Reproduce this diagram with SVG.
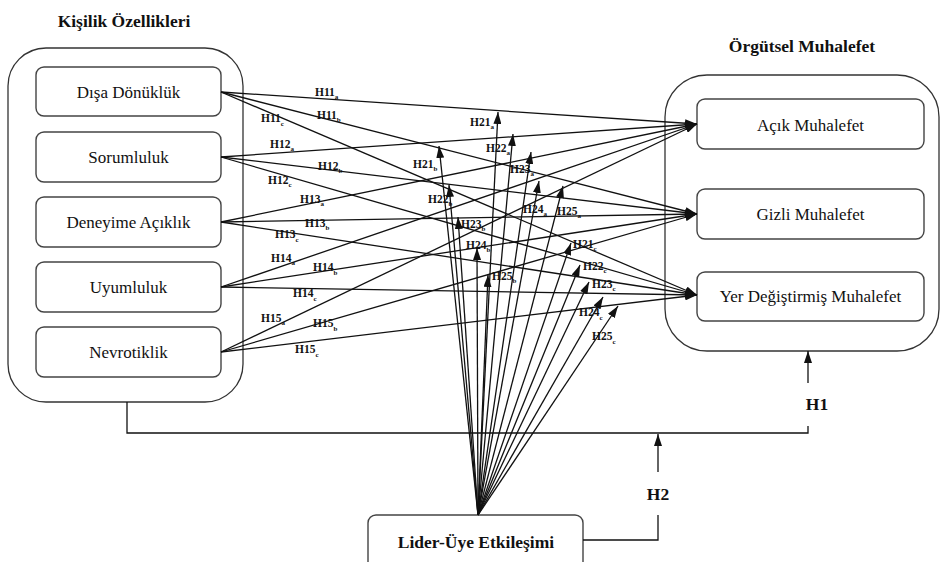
<svg xmlns="http://www.w3.org/2000/svg" width="941" height="562" viewBox="0 0 941 562">
<style>
.cont{fill:none;stroke:#333;stroke-width:1.3}
.box{fill:#fff;stroke:#444;stroke-width:1.4}
text{font-family:'Liberation Serif','Times New Roman',Times,'DejaVu Serif',serif;fill:#111}
.bt{font-size:17px;text-anchor:middle}
.tt{font-size:17.5px;font-weight:bold;text-anchor:middle}
.lb{font-size:11.5px;font-weight:bold}
.sb{font-size:7px}
.ln{fill:none;stroke:#111;stroke-width:1.3}
.la{fill:none;stroke:#111;stroke-width:1.3;marker-end:url(#ah)}
</style>
<defs>
<marker id="ah" markerWidth="12" markerHeight="8" refX="12" refY="4" orient="auto" markerUnits="userSpaceOnUse"><path d="M0,0 L12,4 L0,8 z" fill="#111"/></marker>
</defs>
<rect width="941" height="562" fill="#fff"/>

<g id="kisilik">
<text class="tt" x="124" y="27">Kişilik Özellikleri</text>
<rect class="cont" x="8" y="48" width="235" height="354" rx="38"/>
</g>
<g id="disa"><rect class="box" x="36" y="67" width="185" height="49" rx="8"/><text class="bt" x="128.5" y="98">Dışa Dönüklük</text></g>
<g id="sorum"><rect class="box" x="36" y="132" width="185" height="50" rx="8"/><text class="bt" x="128.5" y="163">Sorumluluk</text></g>
<g id="deney"><rect class="box" x="36" y="197" width="185" height="50" rx="8"/><text class="bt" x="128.5" y="228">Deneyime Açıklık</text></g>
<g id="uyum"><rect class="box" x="36" y="262" width="185" height="50" rx="8"/><text class="bt" x="128.5" y="293">Uyumluluk</text></g>
<g id="nevro"><rect class="box" x="36" y="327" width="185" height="50" rx="8"/><text class="bt" x="128.5" y="358">Nevrotiklik</text></g>

<g id="orgutsel">
<text class="tt" x="802" y="52">Örgütsel Muhalefet</text>
<rect class="cont" x="665" y="75" width="274" height="276" rx="42"/>
</g>
<g id="acik"><rect class="box" x="697" y="99" width="227" height="50" rx="8"/><text class="bt" x="810.5" y="131">Açık Muhalefet</text></g>
<g id="gizli"><rect class="box" x="697" y="189" width="227" height="50" rx="8"/><text class="bt" x="810.5" y="220">Gizli Muhalefet</text></g>
<g id="yer"><rect class="box" x="697" y="272" width="227" height="49" rx="8"/><text class="bt" x="810.5" y="302">Yer Değiştirmiş Muhalefet</text></g>

<g id="lider"><rect class="box" x="368" y="515" width="215" height="60" rx="8"/><text class="tt" x="476" y="548">Lider-Üye Etkileşimi</text></g>

<g id="connectors">
<path class="la" d="M221,92 L697,124"/>
<path class="la" d="M221,92 L697,214"/>
<path class="la" d="M221,92 L697,295"/>
<path class="la" d="M221,157 L697,124"/>
<path class="la" d="M221,157 L697,214"/>
<path class="la" d="M221,157 L697,295"/>
<path class="la" d="M221,222 L697,124"/>
<path class="la" d="M221,222 L697,214"/>
<path class="la" d="M221,222 L697,295"/>
<path class="la" d="M221,287 L697,124"/>
<path class="la" d="M221,287 L697,214"/>
<path class="la" d="M221,287 L697,295"/>
<path class="la" d="M221,352 L697,124"/>
<path class="la" d="M221,352 L697,214"/>
<path class="la" d="M221,352 L697,295"/>
<path class="la" d="M478,515 L498,112"/>
<path class="la" d="M478,515 L513,134"/>
<path class="la" d="M478,515 L531,152"/>
<path class="la" d="M478,515 L539,181"/>
<path class="la" d="M478,515 L563,186"/>
<path class="la" d="M478,515 L439,146"/>
<path class="la" d="M478,515 L449,185"/>
<path class="la" d="M478,515 L458,217"/>
<path class="la" d="M478,515 L477,248"/>
<path class="la" d="M478,515 L488,275"/>
<path class="la" d="M478,515 L571,243"/>
<path class="la" d="M478,515 L580,265"/>
<path class="la" d="M478,515 L589,282"/>
<path class="la" d="M478,515 L603,297"/>
<path class="la" d="M478,515 L618,306"/>
<path class="ln" d="M127,402 V433 H808 V426"/>
<path class="la" d="M808,383 V351"/>
<path class="ln" d="M583,540 H658 V515"/>
<path class="la" d="M658,472 V434"/>
</g>

<g id="labels">
<text class="lb" x="315" y="96">H11<tspan class="sb" dy="3">a</tspan></text>
<text class="lb" x="317" y="119">H11<tspan class="sb" dy="3">b</tspan></text>
<text class="lb" x="261" y="122">H11<tspan class="sb" dy="4">c</tspan></text>
<text class="lb" x="270" y="148">H12<tspan class="sb" dy="3">a</tspan></text>
<text class="lb" x="318" y="170">H12<tspan class="sb" dy="3">b</tspan></text>
<text class="lb" x="268" y="184">H12<tspan class="sb" dy="3">c</tspan></text>
<text class="lb" x="300" y="203">H13<tspan class="sb" dy="3">a</tspan></text>
<text class="lb" x="305" y="227">H13<tspan class="sb" dy="3">b</tspan></text>
<text class="lb" x="275" y="238">H13<tspan class="sb" dy="4">c</tspan></text>
<text class="lb" x="271" y="262">H14<tspan class="sb" dy="3">a</tspan></text>
<text class="lb" x="313" y="271">H14<tspan class="sb" dy="4">b</tspan></text>
<text class="lb" x="293" y="297">H14<tspan class="sb" dy="4">c</tspan></text>
<text class="lb" x="261" y="322">H15<tspan class="sb" dy="3">a</tspan></text>
<text class="lb" x="313" y="327">H15<tspan class="sb" dy="4">b</tspan></text>
<text class="lb" x="295" y="353">H15<tspan class="sb" dy="4">c</tspan></text>

<text class="lb" x="470" y="126">H21<tspan class="sb" dy="3">a</tspan></text>
<text class="lb" x="486" y="152">H22<tspan class="sb" dy="3">a</tspan></text>
<text class="lb" x="413" y="168">H21<tspan class="sb" dy="3">b</tspan></text>
<text class="lb" x="510" y="173">H23<tspan class="sb" dy="3">a</tspan></text>
<text class="lb" x="428" y="203">H22<tspan class="sb" dy="3">b</tspan></text>
<text class="lb" x="523" y="213">H24<tspan class="sb" dy="3">a</tspan></text>
<text class="lb" x="557" y="215">H25<tspan class="sb" dy="3">a</tspan></text>
<text class="lb" x="461" y="228">H23<tspan class="sb" dy="3">b</tspan></text>
<text class="lb" x="466" y="249">H24<tspan class="sb" dy="3">b</tspan></text>
<text class="lb" x="573" y="248">H21<tspan class="sb" dy="3">c</tspan></text>
<text class="lb" x="492" y="280">H25<tspan class="sb" dy="3">b</tspan></text>
<text class="lb" x="583" y="270">H22<tspan class="sb" dy="3">c</tspan></text>
<text class="lb" x="592" y="288">H23<tspan class="sb" dy="3">c</tspan></text>
<text class="lb" x="579" y="316">H24<tspan class="sb" dy="4">c</tspan></text>
<text class="lb" x="592" y="340">H25<tspan class="sb" dy="4">c</tspan></text>

<text class="tt" x="817" y="410">H1</text>
<text class="tt" x="658" y="500">H2</text>
</g>
</svg>
